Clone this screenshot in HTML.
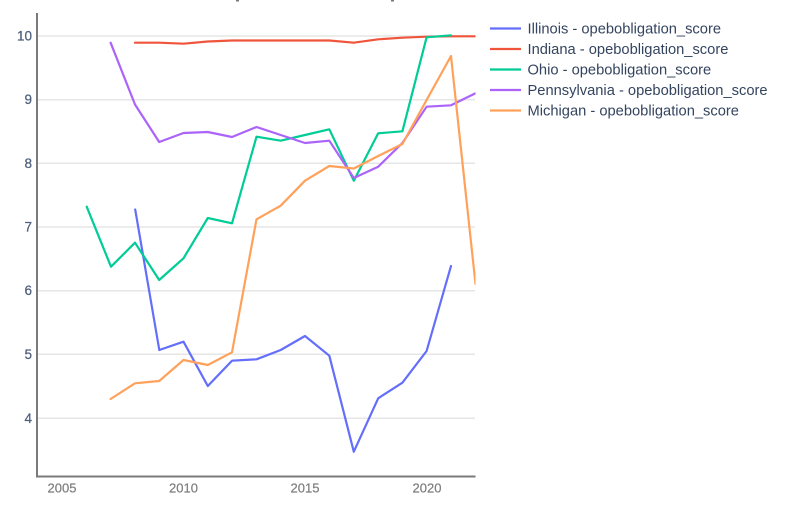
<!DOCTYPE html>
<html>
<head>
<meta charset="utf-8">
<style>
  html,body{margin:0;padding:0;background:#fff;}
  svg{display:block;}
  text{font-family:"Liberation Sans", sans-serif;}
</style>
</head>
<body>
<svg width="800" height="516" viewBox="0 0 800 516" xmlns="http://www.w3.org/2000/svg">
  <rect x="0" y="0" width="800" height="516" fill="#ffffff"/>
  <!-- title fragments -->
  <rect x="236" y="0" width="3" height="1.5" fill="#777"/>
  <rect x="391" y="0" width="3" height="1.5" fill="#777"/>

  <defs>
    <clipPath id="plot"><rect x="38" y="13" width="437.5" height="463"/></clipPath>
  </defs>

  <!-- gridlines -->
  <g stroke="#e6e6e6" stroke-width="1.5">
    <line x1="38" y1="36" x2="475" y2="36"/>
    <line x1="38" y1="99.7" x2="475" y2="99.7"/>
    <line x1="38" y1="163.3" x2="475" y2="163.3"/>
    <line x1="38" y1="227" x2="475" y2="227"/>
    <line x1="38" y1="290.7" x2="475" y2="290.7"/>
    <line x1="38" y1="354.3" x2="475" y2="354.3"/>
    <line x1="38" y1="418.3" x2="475" y2="418.3"/>
  </g>

  <!-- series -->
  <g clip-path="url(#plot)" fill="none" stroke-width="2.2" stroke-linejoin="round" stroke-linecap="round">
    <polyline stroke="#636efa" points="135.2,209.5 159.3,350 183.5,341.7 207.8,386 232,360.7 256.5,359.3 280.7,350 305,336 329.3,355.7 353.8,451.7 378.2,398.3 402.4,382.7 426.6,351 451,266"/>
    <polyline stroke="#EF553B" points="135,42.7 159.2,42.7 183.5,43.7 207.8,41.5 232,40.5 256.5,40.5 280.7,40.5 305,40.5 329.3,40.5 353.8,42.7 378.2,39.3 402.4,37.7 426.6,36.7 451,36.3 475.5,36.3"/>
    <polyline stroke="#00cc96" points="86.7,206.7 111,266.7 135,242.7 159.2,280 183.5,258.3 207.8,218 232,223.3 256.5,136.7 280.7,140.7 305,135 329.3,129.3 353.8,180.7 378.2,133.3 402.4,131.3 426.6,37.3 451,35.3"/>
    <polyline stroke="#ab63fa" points="110.6,42.7 135,104.5 159.2,142 183.5,133 207.8,132 232,137 256.5,127 280.7,135 305,143 329.3,140.7 353.8,178 378.2,166.7 402.4,143 426.6,106.7 451,105.3 475.5,93.3"/>
    <polyline stroke="#FFA15A" points="110.6,399 135,383.3 159.2,381 183.5,360 207.8,365 232,352.3 256.5,219.3 280.7,205.7 305,180.7 329.3,166 353.8,168.5 378.2,156 402.4,144 426.6,100 451,56 475.5,284"/>
  </g>

  <!-- axes -->
  <line x1="37" y1="13" x2="37" y2="477" stroke="#7a7a7a" stroke-width="2"/>
  <line x1="36" y1="476.5" x2="475.5" y2="476.5" stroke="#7a7a7a" stroke-width="2"/>

  <!-- y tick labels -->
  <g fill="#4e5f7e" font-size="13.5" text-anchor="end" stroke="#4e5f7e" stroke-width="0.25">
    <text x="32" y="40.5">10</text>
    <text x="32" y="104.2">9</text>
    <text x="32" y="167.8">8</text>
    <text x="32" y="231.5">7</text>
    <text x="32" y="295.2">6</text>
    <text x="32" y="358.8">5</text>
    <text x="32" y="422.8">4</text>
  </g>

  <!-- x tick labels -->
  <g fill="#7d7d7d" font-size="13" text-anchor="middle" stroke="#7d7d7d" stroke-width="0.2">
    <text x="62" y="492.5">2005</text>
    <text x="183.5" y="492.5">2010</text>
    <text x="305" y="492.5">2015</text>
    <text x="427" y="492.5">2020</text>
  </g>

  <!-- legend -->
  <g stroke-width="2.2">
    <line x1="490" y1="28.5" x2="521" y2="28.5" stroke="#636efa"/>
    <line x1="490" y1="49" x2="521" y2="49" stroke="#EF553B"/>
    <line x1="490" y1="69.5" x2="521" y2="69.5" stroke="#00cc96"/>
    <line x1="490" y1="90" x2="521" y2="90" stroke="#ab63fa"/>
    <line x1="490" y1="110.5" x2="521" y2="110.5" stroke="#FFA15A"/>
  </g>
  <g fill="#34445f" font-size="14.7">
    <text x="527.5" y="33.5">Illinois - opebobligation_score</text>
    <text x="527.5" y="54">Indiana - opebobligation_score</text>
    <text x="527.5" y="74.5">Ohio - opebobligation_score</text>
    <text x="527.5" y="95">Pennsylvania - opebobligation_score</text>
    <text x="527.5" y="115.5">Michigan - opebobligation_score</text>
  </g>
</svg>
</body>
</html>
